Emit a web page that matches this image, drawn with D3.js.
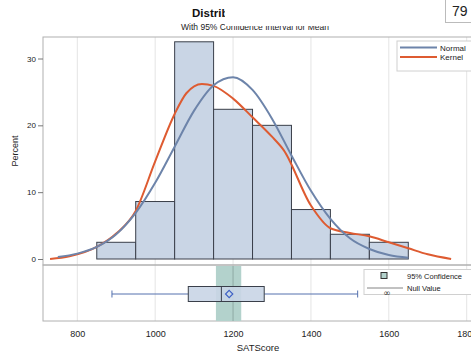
<!DOCTYPE html>
<html>
<head>
<meta charset="utf-8">
<script src="https://cdn.jsdelivr.net/npm/d3@7"></script>
<style>
  body { margin: 0; background: #fff; }
  svg { display: block; font-family: "Liberation Sans", Arial, sans-serif; }
</style>
</head>
<body>
<svg id="chart" width="471" height="360"></svg>
<script>
// histogram bins (left edge, width 100) and percent
const binStarts = [850, 950, 1050, 1150, 1250, 1350, 1450, 1550];
const binPercent = [2.5, 8.6, 32.5, 22.4, 20.0, 7.4, 3.7, 2.5];

// normal curve
const normalX = [750, 800, 850, 900, 950, 1000, 1050, 1100, 1150, 1200, 1250, 1300, 1350, 1400, 1450, 1500, 1550, 1600, 1650];
const normalY = [0.3, 0.8, 1.8, 3.7, 6.9, 11.4, 16.8, 22.2, 26.0, 27.2, 25.3, 21.0, 15.5, 10.2, 6.0, 3.1, 1.5, 0.6, 0.2];

// kernel curve
const kernelX = [730, 780, 850, 900, 950, 1000, 1050, 1080, 1120, 1150, 1200, 1250, 1300, 1330, 1400, 1450, 1500, 1550, 1600, 1650, 1700, 1760];
const kernelY = [0.0, 0.4, 1.8, 3.8, 7.2, 14.6, 21.7, 24.8, 26.2, 25.9, 24.0, 21.2, 18.3, 16.3, 8.0, 4.6, 3.9, 3.4, 2.5, 1.6, 0.7, 0.0];

// box plot stats
const boxMin = 889, boxQ1 = 1085, boxMedian = 1170, boxQ3 = 1280, boxMax = 1520, boxMean = 1190;
const ciLow = 1156, ciHigh = 1221;
const nullValue = 1200;

const xTicks = [800, 1000, 1200, 1400, 1600, 1800];
const yTicks = [0, 10, 20, 30];

const svg = d3.select('#chart');

const left = 43;
const right = 480;
const topY = 37;
const midY = 265;
const bottomY = 321;

const x = d3.scaleLinear().domain([800, 1800]).range([77.3, 466.7]);
const y = d3.scaleLinear().domain([0, 30]).range([259, 58.5]);

const barFill = '#c9d5e5';
const gridColor = '#e4e4e4';
const frameColor = '#b0b0b0';

//
// GRID LINES
//
const grid = svg.append('g');
xTicks.forEach((t) => {
  grid.append('line')
    .attr('x1', x(t)).attr('x2', x(t))
    .attr('y1', topY).attr('y2', bottomY)
    .attr('stroke', gridColor).attr('stroke-width', 1);
});

//
// HISTOGRAM
//
svg.append('g')
  .selectAll('rect')
  .data(binStarts)
  .join('rect')
  .attr('x', (d) => x(d))
  .attr('width', (d) => x(d + 100) - x(d))
  .attr('y', (d, i) => y(binPercent[i]))
  .attr('height', (d, i) => y(0) - y(binPercent[i]))
  .attr('fill', barFill)
  .attr('stroke', '#3a3f4a')
  .attr('stroke-width', 1);

//
// DENSITY CURVES
//
const curve = d3.line()
  .curve(d3.curveMonotoneX)
  .x((d) => x(d[0]))
  .y((d) => y(d[1]));

svg.append('path')
  .datum(kernelX.map((v, i) => [v, kernelY[i]]))
  .attr('fill', 'none')
  .attr('stroke', '#de5b31')
  .attr('stroke-width', 2)
  .attr('d', curve);

svg.append('path')
  .datum(normalX.map((v, i) => [v, normalY[i]]))
  .attr('fill', 'none')
  .attr('stroke', '#6d84aa')
  .attr('stroke-width', 2)
  .attr('d', curve);

//
// FRAMES
//
svg.append('rect')
  .attr('x', left).attr('y', topY)
  .attr('width', right - left).attr('height', midY - topY)
  .attr('fill', 'none').attr('stroke', frameColor);

svg.append('rect')
  .attr('x', left).attr('y', midY)
  .attr('width', right - left).attr('height', bottomY - midY)
  .attr('fill', 'none').attr('stroke', frameColor);

//
// Y AXIS
//
const yAxis = svg.append('g')
  .attr('transform', `translate(${left},0)`)
  .call(d3.axisLeft(y).tickValues(yTicks).tickSize(5).tickPadding(2));
yAxis.select('.domain').remove();
yAxis.selectAll('line').attr('stroke', '#777');
yAxis.selectAll('text')
  .attr('font-size', 8)
  .attr('fill', '#222')
  .attr('font-family', '"Liberation Sans", Arial, sans-serif');

svg.append('text')
  .attr('transform', 'translate(18,151) rotate(-90)')
  .attr('text-anchor', 'middle')
  .attr('font-size', 9)
  .attr('fill', '#222')
  .text('Percent');

//
// X AXIS
//
const xAxis = svg.append('g')
  .attr('transform', `translate(0,${bottomY})`)
  .call(d3.axisBottom(x).tickValues(xTicks).tickSize(0).tickPadding(10).tickFormat(d3.format('d')));
xAxis.select('.domain').remove();
xAxis.selectAll('text')
  .attr('font-size', 9)
  .attr('fill', '#222')
  .attr('font-family', '"Liberation Sans", Arial, sans-serif');

svg.append('text')
  .attr('x', 258).attr('y', 351)
  .attr('text-anchor', 'middle')
  .attr('font-size', 9.5)
  .attr('fill', '#222')
  .text('SATScore');

//
// BOX PLOT PANEL
//
svg.append('rect')
  .attr('x', x(ciLow)).attr('y', midY + 1)
  .attr('width', x(ciHigh) - x(ciLow)).attr('height', bottomY - midY - 1)
  .attr('fill', '#b3d2cc');

svg.append('line')
  .attr('x1', x(nullValue)).attr('x2', x(nullValue))
  .attr('y1', midY + 1).attr('y2', bottomY)
  .attr('stroke', '#8fa9a4').attr('stroke-width', 1);

const boxY = 294;
const boxH = 15;
const whiskerColor = '#5470ae';

svg.append('line')
  .attr('x1', x(boxMin)).attr('x2', x(boxQ1))
  .attr('y1', boxY).attr('y2', boxY)
  .attr('stroke', whiskerColor);
svg.append('line')
  .attr('x1', x(boxQ3)).attr('x2', x(boxMax))
  .attr('y1', boxY).attr('y2', boxY)
  .attr('stroke', whiskerColor);
[boxMin, boxMax].forEach((v) => {
  svg.append('line')
    .attr('x1', x(v)).attr('x2', x(v))
    .attr('y1', boxY - 3.5).attr('y2', boxY + 3.5)
    .attr('stroke', whiskerColor);
});

svg.append('rect')
  .attr('x', x(boxQ1)).attr('y', boxY - boxH / 2)
  .attr('width', x(boxQ3) - x(boxQ1)).attr('height', boxH)
  .attr('fill', barFill).attr('fill-opacity', 0.9)
  .attr('stroke', '#3a3f4a');

svg.append('line')
  .attr('x1', x(boxMedian)).attr('x2', x(boxMedian))
  .attr('y1', boxY - boxH / 2).attr('y2', boxY + boxH / 2)
  .attr('stroke', '#3a3f4a');

svg.append('path')
  .attr('transform', `translate(${x(boxMean)},${boxY})`)
  .attr('d', d3.symbol().type(d3.symbolDiamond2).size(34)())
  .attr('fill', 'none')
  .attr('stroke', '#3b5ec4')
  .attr('stroke-width', 1.1);

//
// LEGENDS
//
const leg1 = svg.append('g');
leg1.append('rect')
  .attr('x', 397).attr('y', 41).attr('width', 90).attr('height', 30)
  .attr('fill', '#fff').attr('stroke', '#d0d0d0');
[['Normal', '#6d84aa', 47.5], ['Kernel', '#de5b31', 57]].forEach(([label, color, ly]) => {
  leg1.append('line')
    .attr('x1', 400).attr('x2', 437).attr('y1', ly).attr('y2', ly)
    .attr('stroke', color).attr('stroke-width', 2);
  leg1.append('text')
    .attr('x', 440).attr('y', ly + 3)
    .attr('font-size', 8).attr('fill', '#222')
    .text(label);
});

const leg2 = svg.append('g');
leg2.append('rect')
  .attr('x', 364).attr('y', 269.5).attr('width', 120).attr('height', 25)
  .attr('fill', '#fff').attr('stroke', '#d0d0d0');
leg2.append('rect')
  .attr('x', 381).attr('y', 272.5).attr('width', 6).attr('height', 6)
  .attr('fill', '#b3d2cc').attr('stroke', '#333');
leg2.append('text')
  .attr('x', 407).attr('y', 278.5)
  .attr('font-size', 7.5).attr('fill', '#222')
  .text('95% Confidence');
leg2.append('line')
  .attr('x1', 367).attr('x2', 403).attr('y1', 288).attr('y2', 288)
  .attr('stroke', '#666').attr('stroke-width', 0.8);
leg2.append('text')
  .attr('x', 407).attr('y', 290.5)
  .attr('font-size', 7.5).attr('fill', '#222')
  .text('Null Value');
leg2.append('text')
  .attr('x', 387).attr('y', 295.5)
  .attr('text-anchor', 'middle')
  .attr('font-size', 9)
  .attr('font-family', '"DejaVu Sans", sans-serif')
  .attr('fill', '#333')
  .text('∞');

//
// TITLES
//
svg.append('text')
  .attr('x', 192).attr('y', 17)
  .attr('font-size', 11.5).attr('font-weight', 'bold').attr('fill', '#111')
  .text('Distribution of SATScore');
svg.append('text')
  .attr('x', 255).attr('y', 30)
  .attr('text-anchor', 'middle')
  .attr('font-size', 8.5).attr('fill', '#222')
  .text('With 95% Confidence Interval for Mean');

// overlay boxes in the screenshot
svg.append('rect')
  .attr('x', 225).attr('y', 0).attr('width', 221).attr('height', 26)
  .attr('fill', '#fff');
svg.append('rect')
  .attr('x', 445.5).attr('y', -1).attr('width', 30).attr('height', 23.5)
  .attr('fill', '#fff').attr('stroke', '#bbb');
svg.append('text')
  .attr('x', 452).attr('y', 16)
  .attr('font-size', 14).attr('fill', '#222')
  .text('79');
</script>
</body>
</html>
